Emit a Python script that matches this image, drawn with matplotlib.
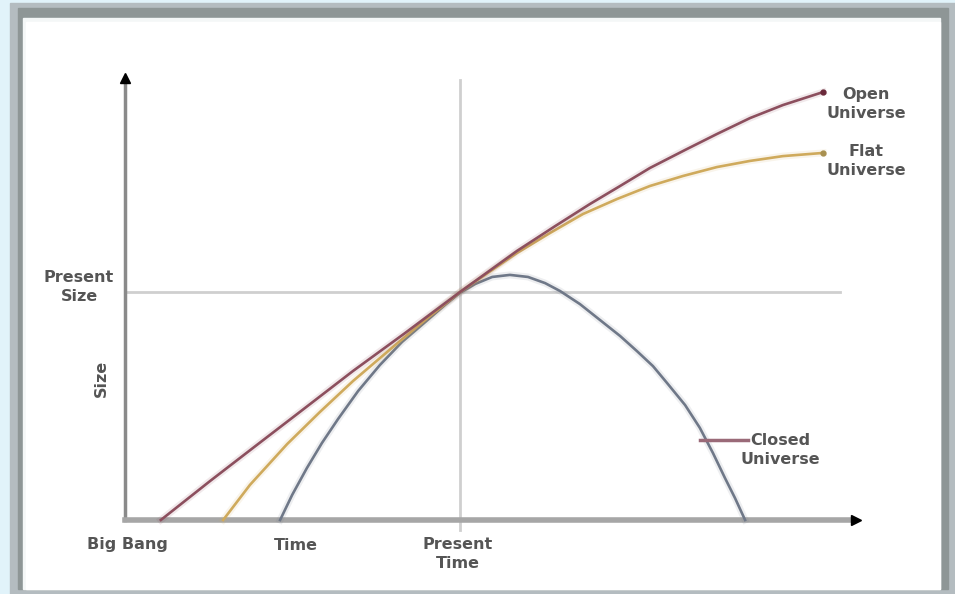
import numpy as np
import matplotlib
matplotlib.use('Agg')
import matplotlib.pyplot as plt
from matplotlib.patches import Rectangle

# time in units of present age, size in units of present size
open_t = [0.107, 0.254, 0.382, 0.522, 0.681, 0.836, 1.0, 1.170, 1.284, 1.388,
          1.478, 1.567, 1.672, 1.767, 1.866, 1.964, 2.084]
open_s = [0.0, 0.171, 0.316, 0.474, 0.654, 0.820, 1.0, 1.180, 1.289, 1.386,
          1.465, 1.544, 1.623, 1.693, 1.763, 1.820, 1.877]

flat_t = [0.293, 0.373, 0.484, 0.582, 0.681, 0.800, 0.896, 1.0, 1.170, 1.269,
          1.367, 1.469, 1.567, 1.666, 1.767, 1.866, 1.964, 2.084]
flat_s = [0.0, 0.154, 0.333, 0.474, 0.610, 0.759, 0.877, 1.0, 1.171, 1.259,
          1.342, 1.408, 1.465, 1.509, 1.548, 1.575, 1.596, 1.610]

closed_t = [0.463, 0.499, 0.543, 0.588, 0.636, 0.696, 0.761, 0.827, 0.896, 0.955,
            1.0, 1.045, 1.096, 1.149, 1.203, 1.254, 1.299, 1.358, 1.418, 1.478,
            1.528, 1.576, 1.618, 1.672, 1.716, 1.755, 1.791, 1.821, 1.851]
closed_s = [0.0, 0.110, 0.228, 0.338, 0.443, 0.566, 0.680, 0.781, 0.868, 0.943,
            0.996, 1.035, 1.066, 1.075, 1.066, 1.039, 1.004, 0.947, 0.877, 0.807,
            0.741, 0.675, 0.601, 0.504, 0.404, 0.294, 0.184, 0.096, 0.0]

present_time = 1.0
present_size = 1.0

# pixel mapping of the original drawing
W, H = 955, 594
x0, xs = 125, 335.0
y0, ys = 520, 228.0

def T(px):
    return (px - x0) / xs

def S(py):
    return (y0 - py) / ys

fig = plt.figure(figsize=(W / 100, H / 100), dpi=100)
fig.patch.set_facecolor('#e1f3fa')

# window frame
def frect(x, y, w, h, c):
    fig.patches.append(Rectangle((x / W, 1 - (y + h) / H), w / W, h / H,
                                 transform=fig.transFigure, color=c, zorder=-5))

frect(10, 3, 945, 591, '#b4bcc0')
frect(18, 8, 930, 581, '#8e9696')
frect(23, 18, 917, 571, '#f4f7f7')
frect(26, 22, 914, 567, 'white')

ax = fig.add_axes([0, 0, 1, 1])
ax.set_zorder(2)
ax.set_xlim(T(0), T(W))
ax.set_ylim(S(H), S(0))
ax.axis('off')

# present reference lines
ax.plot([present_time, present_time], [S(530), S(80)], color='#cfcfcf', lw=2, zorder=1)
ax.plot([0, T(840)], [present_size, present_size], color='#cfcfcf', lw=2, zorder=1)

# axes
ax.plot([0, 0], [0, S(84)], color='#8a8a8a', lw=2.5, zorder=2)
ax.plot([0, T(852)], [0, 0], color='#a6a6a6', lw=4, zorder=2)
ax.plot([0], [S(78)], marker='^', color='black', ms=7, zorder=3)
ax.plot([T(856)], [0], marker='>', color='black', ms=7, zorder=3)

# curves, with a faint halo like the soft original
for t, s, c, z in [(closed_t, closed_s, '#6f7888', 4),
                   (flat_t, flat_s, '#cfaa5c', 5),
                   (open_t, open_s, '#8c4f5e', 6)]:
    ax.plot(t, s, color=c, lw=5, alpha=0.12, solid_joinstyle='round', zorder=z)
    ax.plot(t, s, color=c, lw=1.9, solid_joinstyle='round', zorder=z)
ax.plot(open_t[-1], open_s[-1], 'o', color='#6a2a3a', ms=3.5, zorder=7)
ax.plot(flat_t[-1], flat_s[-1], 'o', color='#a89050', ms=3.5, zorder=7)

# closed universe pointer
ax.plot([T(700), T(748)], [S(440), S(440)], color='#9a6a78', lw=2.5, zorder=7)

tc = '#555555'
fs = 11.5
kw = dict(ha='center', va='center', color=tc, fontsize=fs, fontweight='bold',
          linespacing=1.3)
ax.text(T(866), S(104), 'Open\nUniverse', **kw)
ax.text(T(866), S(161), 'Flat\nUniverse', **kw)
ax.text(T(780), S(450), 'Closed\nUniverse', **kw)
ax.text(T(79), S(287), 'Present\nSize', **kw)
ax.text(T(101), S(378), 'Size', rotation=90, **kw)
ax.text(T(127), S(545), 'Big Bang', **kw)
ax.text(T(296), S(545), 'Time', **kw)
ax.text(T(458), S(554), 'Present\nTime', **kw)

fig.savefig('out.png', dpi=100, facecolor=fig.get_facecolor())
